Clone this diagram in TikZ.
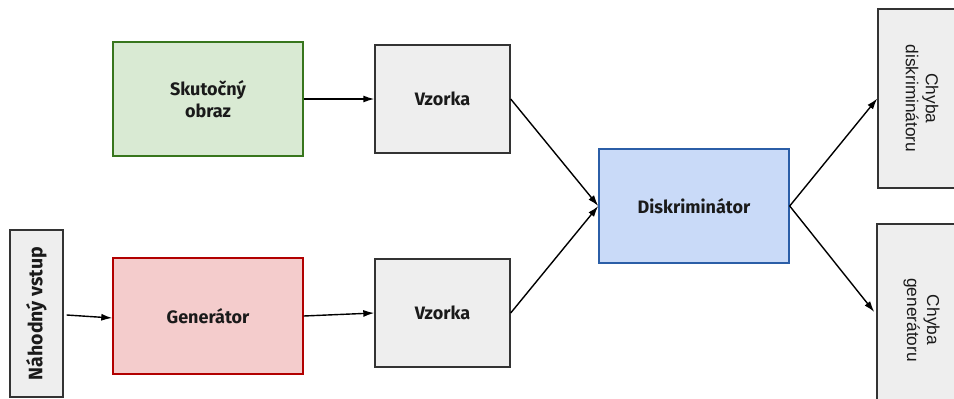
\documentclass[tikz,border=0pt]{standalone}
\usepackage{fontspec}
\setmainfont{Fira Sans}
\newfontfamily\plainsans{Liberation Sans}
\usetikzlibrary{arrows.meta,calc}

\definecolor{greyfill}{HTML}{EEEEEE}
\definecolor{greyline}{HTML}{333333}
\definecolor{greenfill}{HTML}{D9EAD3}
\definecolor{greenline}{HTML}{38761D}
\definecolor{redfill}{HTML}{F4CCCC}
\definecolor{redline}{HTML}{B20000}
\definecolor{bluefill}{HTML}{C9DAF8}
\definecolor{blueline}{HTML}{2B5EA7}
\definecolor{inktext}{HTML}{1A1A1A}

\tikzset{
  labelfont/.style={font=\fontsize{18}{22}\selectfont\bfseries},
  lossfont/.style={font=\plainsans\fontsize{17.3}{20}\selectfont},
  box/.style={draw, line width=1.4pt, minimum width=#1, inner sep=0pt, text=inktext,
    labelfont, align=center},
  greybox/.style={box=#1, fill=greyfill, draw=greyline},
  greenbox/.style={box=#1, fill=greenfill, draw=greenline},
  redbox/.style={box=#1, fill=redfill, draw=redline},
  bluebox/.style={box=#1, fill=bluefill, draw=blueline},
  flow/.style={-{Latex[length=11pt,width=7pt]}, line width=1.4pt, draw=black}
}

\begin{document}
\begin{tikzpicture}[x=1pt,y=-1pt]
  \clip (0,0) rectangle (954,399);
  \fill[white] (0,0) rectangle (954,399);

  % inputs
  \node[greybox=53pt, minimum height=167pt] (nv) at (36.5,313.5) {};
  \node[rotate=90, text=inktext, font=\fontsize{19.5}{22}\selectfont\bfseries] (nvt) at (nv.center) {Náhodný vstup};
  \node[greenbox=190pt, minimum height=114pt] (real) at (208,99) {Skutočný\\obraz};
  \node[redbox=190pt, minimum height=116pt] (gen) at (208,316) {Generátor};

  % samples
  \node[greybox=135pt, minimum height=108pt] (vt) at (442.5,99) {Vzorka};
  \node[greybox=135pt, minimum height=108pt] (vb) at (442.5,313) {Vzorka};

  % discriminator
  \node[bluebox=190pt, minimum height=114pt] (disc) at (694,206) {Diskriminátor};

  % losses (cut by the right edge)
  \node[greybox=88pt, minimum height=179pt] (cd) at (922,98.5) {};
  \node[rotate=-90, align=center, text=inktext, lossfont] at (cd.center) {Chyba\\diskriminátoru};
  \node[greybox=89pt, minimum height=192pt] (cg) at (921.5,320) {};
  \node[rotate=-90, align=center, text=inktext, lossfont] at (cg.center) {Chyba\\generátoru};

  % connectors
  \draw[flow] ($(nv.east)+(3,1.5)$) -- ($(gen.west)+(0,2)$);
  \draw[flow] (real.east) -- (vt.west);
  \draw[flow] (gen.east) -- (vb.west);
  \draw[flow] (vt.east) -- (disc.west);
  \draw[flow] (vb.east) -- (disc.west);
  \draw[flow] (disc.east) -- (cd.west);
  \draw[flow] (disc.east) -- ($(cg.west)+(-2,-8)$);
\end{tikzpicture}
\end{document}
